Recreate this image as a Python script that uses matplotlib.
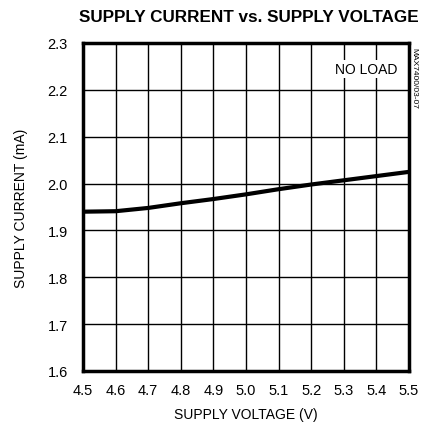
import matplotlib
matplotlib.use("Agg")
import matplotlib.pyplot as plt
import numpy as np

voltage = [4.5, 4.6, 4.7, 4.8, 4.9, 5.0, 5.1, 5.2, 5.3, 5.4, 5.5]
current = [1.940, 1.941, 1.948, 1.958, 1.967, 1.977, 1.988, 1.998, 2.007, 2.016, 2.025]
xticks = [4.5, 4.6, 4.7, 4.8, 4.9, 5.0, 5.1, 5.2, 5.3, 5.4, 5.5]
yticks = [1.6, 1.7, 1.8, 1.9, 2.0, 2.1, 2.2, 2.3]

plt.rcParams['font.family'] = ['Liberation Sans', 'DejaVu Sans']

fig = plt.figure(figsize=(4.22, 4.31), dpi=100)
ax = fig.add_axes([83/422, 1 - 372/431, (409-83)/422, (372-44)/431])
ax.plot(voltage, current, color='black', lw=3, solid_capstyle='butt', zorder=3)
ax.set_xlim(4.5, 5.5)
ax.set_ylim(1.6, 2.3)
ax.set_xticks(xticks)
ax.set_yticks(yticks)
ax.set_xticklabels([f"{v:.1f}" for v in xticks], fontsize=10.5)
ax.set_yticklabels([f"{v:.1f}" for v in yticks], fontsize=10.5)
ax.grid(True, color='black', lw=1)
ax.tick_params(axis='x', length=0, pad=9)
ax.tick_params(axis='y', length=0, pad=11)
for s in ax.spines.values():
    s.set_linewidth(2.5)
ax.set_xlabel("SUPPLY VOLTAGE (V)", fontsize=10, labelpad=7)
ax.set_ylabel("SUPPLY CURRENT (mA)", fontsize=10, labelpad=14)
fig.text(249/422, 1 - 17/431, "SUPPLY CURRENT vs. SUPPLY VOLTAGE", ha='center', va='center',
         fontsize=12.3, fontweight='bold')
ax.text(0.868, 0.92, "NO LOAD", transform=ax.transAxes, ha='center', va='center', fontsize=10,
        bbox=dict(facecolor='white', edgecolor='none', pad=1.5), zorder=4)
fig.text(1 - 8/422, 1 - 78/431, "MAX7400/03-07", rotation=270, ha='center', va='center', fontsize=6)
fig.savefig("out.png", dpi=100)
